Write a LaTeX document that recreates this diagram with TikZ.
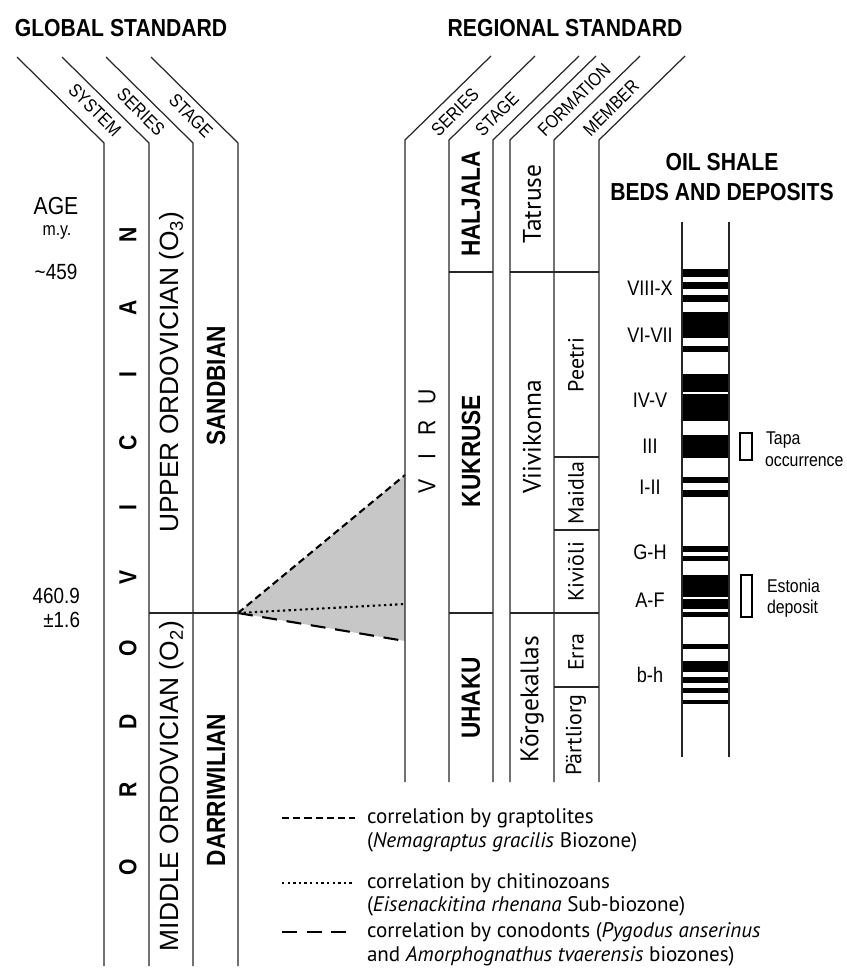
\documentclass[tikz,border=0pt]{standalone}
\usepackage{fontspec}
\setmainfont{Liberation Sans}[FakeStretch=0.86]
\newfontfamily\widesans{Liberation Sans}
\newfontfamily\humansans{PT Sans}
\usetikzlibrary{positioning}

\begin{document}
\begin{tikzpicture}[x=0.02cm, y=-0.02cm,
  every node/.style = {
    inner sep = 0,
    outer sep = 0,
  },
  thinrule/.style = {line width = 0.7pt, draw = black!85},
  headline/.style = {font = \fontsize{14}{16}\selectfont\bfseries},
  colhead/.style = {font = \fontsize{10.5}{12}\selectfont},
  agebig/.style = {font = \fontsize{14}{16}\selectfont},
  agesmall/.style = {font = \fontsize{10.5}{12}\selectfont},
  agenum/.style = {font = \fontsize{12.5}{14}\selectfont},
  sysletter/.style = {rotate = 90, font = \fontsize{14}{16}\selectfont\bfseries},
  virletter/.style = {rotate = 90, font = \fontsize{14}{16}\selectfont},
  serieslbl/.style = {rotate = 90, font = \widesans\fontsize{15}{17}\selectfont},
  stagelbl/.style = {rotate = 90, font = \fontsize{15}{17}\selectfont\bfseries},
  formlbl/.style = {rotate = 90, font = \humansans\fontsize{14.5}{17}\selectfont},
  memblbl/.style = {rotate = 90, font = \humansans\fontsize{12.5}{15}\selectfont},
  bedlbl/.style = {font = \fontsize{12}{14}\selectfont},
  sidelbl/.style = {anchor = base west, font = \fontsize{10.5}{12}\selectfont},
  legtext/.style = {anchor = west, text height = 1.6ex, text depth = 0.5ex,
    font = \humansans\fontsize{12}{14}\selectfont},
  wedge/.style = {fill = black!22},
  graptline/.style = {line width = 1.2pt, dash pattern = on 4pt off 2.4pt},
  chitline/.style = {line width = 1.2pt, dash pattern = on 1.3pt off 1.9pt},
  conoline/.style = {line width = 1.2pt, dash pattern = on 8.5pt off 5.5pt},
  bedbox/.style = {line width = 1.1pt},
]
\useasboundingbox (0,0) rectangle (846,971);

% correlation wedge
\coordinate (base) at (238,613);
\coordinate (grtop) at (405,475);
\coordinate (chmid) at (405,604);
\coordinate (cobot) at (405,641);
\fill[wedge] (base) -- (grtop) -- (cobot) -- cycle;
\draw[graptline] (base) -- (grtop);
\draw[chitline] (base) -- (chmid);
\draw[conoline] (base) -- (cobot);

% global standard
\node[headline] (globtitle) at (121,28) {GLOBAL STANDARD};
\foreach \xx in {104,149,193,238}
  \draw[thinrule] (\xx-87,57) -- (\xx,143) -- (\xx,966);
\draw[thinrule] (149,613) -- (238,613);
\node[colhead, rotate = -45] (gsystem) at (95,110) {SYSTEM};
\node[colhead, rotate = -45] (gseries) at (141,112) {SERIES};
\node[colhead, rotate = -45] (gstage) at (191,116) {STAGE};

\node[agebig] (age) at (56,206) {AGE};
\node[agesmall] (myr) at (57,232) {m.y.};
\node[agenum] (age459) at (56,272) {\textasciitilde459};
\node[agenum, anchor = east] (age4609) at (80,596) {460.9};
\node[agenum, anchor = east] (agepm) at (80,620) {±1.6};

\foreach \ch/\yy [count=\n] in {O/867,R/790,D/722,O/648,V/577,I/508,C/443,I/375,A/308,N/235}
  \node[sysletter] (ord\n) at (128,\yy) {\ch};
\node[serieslbl] (upper) at (172,372) {UPPER ORDOVICIAN (O\textsubscript{3})};
\node[serieslbl] (middle) at (172,786) {MIDDLE ORDOVICIAN (O\textsubscript{2})};
\node[stagelbl] (sandbian) at (216,386) {SANDBIAN};
\node[stagelbl] (darriw) at (216,790) {DARRIWILIAN};

% regional standard
\node[headline] (regtitle) at (565,28) {REGIONAL STANDARD};
\foreach \xx in {405,449,493,510,554,599}
  \draw[thinrule] (\xx+86,56) -- (\xx,140) -- (\xx,782);
\foreach \yy in {272,613} {
  \draw[thinrule] (449,\yy) -- (493,\yy);
  \draw[thinrule] (510,\yy) -- (599,\yy);
}
\foreach \yy in {457,530,687}
  \draw[thinrule] (554,\yy) -- (599,\yy);
\node[colhead, rotate = 45] (rseries) at (455,112) {SERIES};
\node[colhead, rotate = 45] (rstage) at (497,114) {STAGE};
\node[colhead, rotate = 45] (rform) at (574,100) {FORMATION};
\node[colhead, rotate = 45] (rmember) at (611,108) {MEMBER};

\foreach \ch/\yy [count=\n] in {V/486,I/457,R/428,U/397}
  \node[virletter] (viru\n) at (427,\yy) {\ch};
\node[stagelbl] (haljala) at (471,204) {HALJALA};
\node[stagelbl] (kukruse) at (471,451) {KUKRUSE};
\node[stagelbl] (uhaku) at (471,698) {UHAKU};
\node[formlbl] (tatruse) at (532,204) {Tatruse};
\node[formlbl] (viivik) at (532,437) {Viivikonna};
\node[formlbl] (korgek) at (532,699) {Kõrgekallas};
\node[memblbl] (peetri) at (576,365) {Peetri};
\node[memblbl] (maidla) at (576,493) {Maidla};
\node[memblbl] (kiviol) at (576,572) {Kiviõli};
\node[memblbl] (erra) at (576,652) {Erra};
\node[memblbl] (partl) at (576,735) {Pärtliorg};

% oil shale column
\node[headline] (oiltitle) at (722,162) {OIL SHALE};
\node[headline] (bedstitle) at (722,192) {BEDS AND DEPOSITS};
\foreach \ya/\yb in {269/277,282/289,295/302,312/338,346/352,374/392,394/421,
    435/458,477/483,490/497,546/552,556/561,575/597,599/609,612/617,
    644/649,661/672,677/683,688/693,700/704}
  \fill (682,\ya) rectangle (729,\yb);
\draw[thinrule] (682,222) -- (682,757);
\draw[thinrule] (729,222) -- (729,757);
\foreach \lbl/\yy [count=\n] in {VIII-X/288,VI-VII/335,IV-V/400,III/446,I-II/487,G-H/552,A-F/600,b-h/675}
  \node[bedlbl] (bed\n) at (650,\yy) {\lbl};

\draw[bedbox] (740,433) rectangle (752,460);
\draw[bedbox] (741,575) rectangle (752,617);
\node[sidelbl] (tapa) at (766,444) {Tapa};
\node[sidelbl] (occur) at (765,466) {occurrence};
\node[sidelbl] (estonia) at (767,592) {Estonia};
\node[sidelbl] (deposit) at (767,613) {deposit};

% legend
\coordinate (grA) at (282,818);
\coordinate (grB) at (355,818);
\coordinate (chA) at (282,883);
\coordinate (chB) at (355,883);
\coordinate (coA) at (282,932);
\coordinate (coB) at (355,932);
\draw[graptline] (grA) -- (grB);
\draw[chitline] (chA) -- (chB);
\draw[conoline] (coA) -- (coB);
\node[legtext] (leggr) at (367,818) {correlation by graptolites};
\node[legtext] (leggrb) at (367,842) {(\textit{Nemagraptus gracilis} Biozone)};
\node[legtext] (legch) at (367,883) {correlation by chitinozoans};
\node[legtext] (legchb) at (367,906) {(\textit{Eisenackitina rhenana} Sub-biozone)};
\node[legtext] (legco) at (367,932) {correlation by conodonts (\textit{Pygodus anserinus}};
\node[legtext] (legcob) at (367,956) {and \textit{Amorphognathus tvaerensis} biozones)};
\end{tikzpicture}
\end{document}
